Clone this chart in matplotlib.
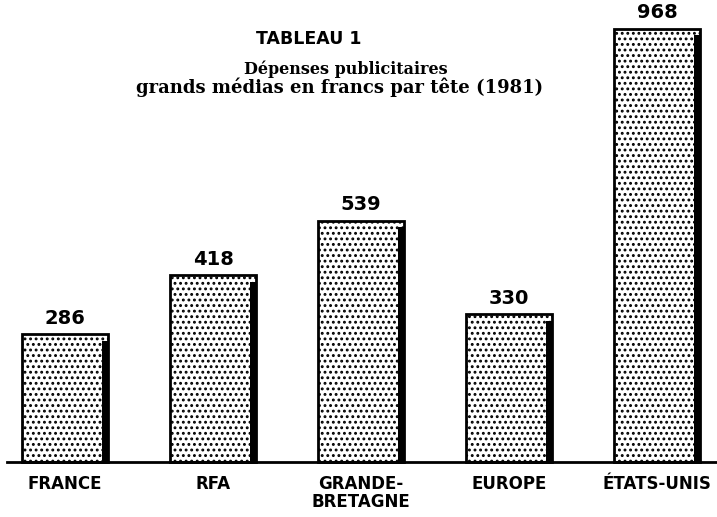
import matplotlib
matplotlib.use('Agg')
import matplotlib.pyplot as plt

pays = ['FRANCE', 'RFA', 'GRANDE-\nBRETAGNE', 'EUROPE', 'ÉTATS-UNIS']
depenses = [286, 418, 539, 330, 968]
etiquettes = ['286', '418', '539', '330', '968']

plt.rcParams['font.family'] = ['DejaVu Sans']
plt.rcParams['hatch.linewidth'] = 1.3

fig = plt.figure(figsize=(7.17, 5.17), dpi=100)
ax = fig.add_axes([0, 0, 1, 1])
ax.set_xlim(-0.44, 4.405)
ax.set_ylim(-123, 1032)
ax.axis('off')

x = range(len(pays))
largeur = 0.58

# barres pointillées
ax.bar(x, depenses, width=largeur, color='white', edgecolor='black',
       linewidth=2, hatch='...')
# ombre épaisse à droite
ax.bar([i + largeur / 2 - 0.02 for i in x], [v - 15 for v in depenses],
       width=0.04, color='black', linewidth=0)

ax.axhline(0, xmin=0.01, xmax=1, color='black', linewidth=2)

for i, (v, lab) in enumerate(zip(depenses, etiquettes)):
    ax.text(i, v + 14, lab, ha='center', va='bottom',
            fontsize=14, fontweight='heavy')

for i, p in enumerate(pays):
    ax.text(i, -30, p, ha='center', va='top', fontsize=12,
            fontweight='heavy', linespacing=0.95)

fig.text(0.43, 0.925, 'TABLEAU 1', ha='center', va='center',
         fontsize=12.5, fontweight='heavy')
fig.text(0.483, 0.866, 'Dépenses publicitaires', ha='center', va='center',
         fontsize=11.5, fontweight='bold', family=['DejaVu Serif'])
fig.text(0.473, 0.831, 'grands médias en francs par tête (1981)',
         ha='center', va='center', fontsize=13, fontweight='bold',
         family=['DejaVu Serif'])

fig.savefig('out.png', dpi=100)
